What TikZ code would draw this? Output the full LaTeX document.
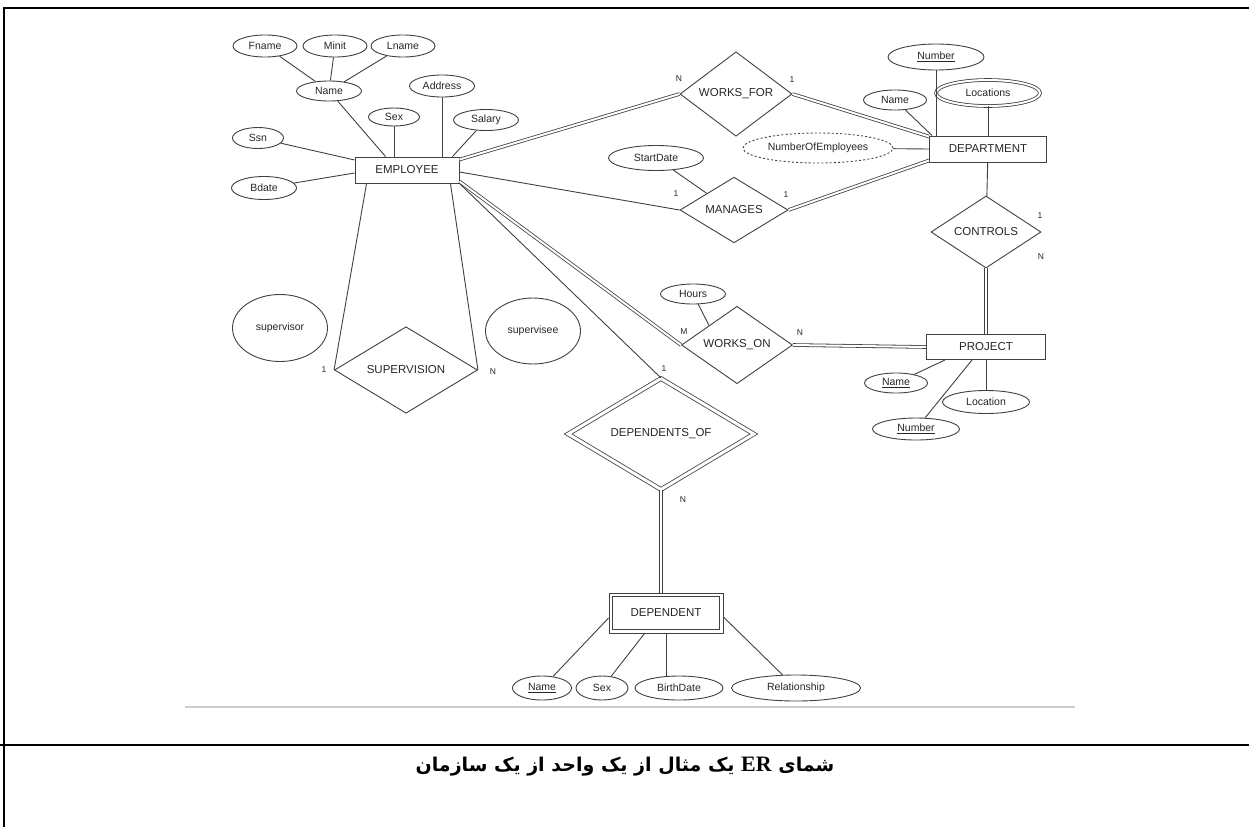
\documentclass[tikz,border=0pt]{standalone}
\usepackage{fontspec}
\setmainfont{Liberation Sans}
\newfontfamily\arabicfont[Script=Arabic]{DejaVu Sans}
\newfontfamily\serifen{Liberation Serif}
\TeXXeTstate=1
\usetikzlibrary{shapes.geometric}

\tikzset{
  base/.style={draw=black!75, line width=0.9pt, text=black!85, inner sep=0pt},
  ent/.style={base, rectangle, font=\fontsize{11.5}{13}\selectfont},
  att/.style={base, ellipse, font=\fontsize{10.5}{12}\selectfont},
  rel/.style={base, diamond, font=\fontsize{11.5}{13}\selectfont},
  card/.style={text=black!85, inner sep=0pt, font=\fontsize{8.5}{10}\selectfont},
  link/.style={draw=black!75, line width=0.9pt},
  dlink/.style={draw=black!75, line width=0.8pt, double=white, double distance=2pt},
}

\begin{document}
\begin{tikzpicture}[x=1pt,y=-1pt]
\useasboundingbox (0,0) rectangle (1249,827);

% frame of the table and the caption row
\draw[line width=2.5pt] (4,827) -- (4,8) -- (1249,8);
\draw[line width=2.5pt] (0,745) -- (1249,745);
\draw[black!20, line width=1.5pt] (185,707) -- (1075,707);

% ---------- EMPLOYEE ----------
\node[ent, minimum width=104, minimum height=26] (emp) at (407,170) {EMPLOYEE};
\node[att, minimum width=64, minimum height=22] (fname) at (265,46) {Fname};
\node[att, minimum width=64, minimum height=22] (minit) at (335,46) {Minit};
\node[att, minimum width=64, minimum height=22] (lname) at (403,46) {Lname};
\node[att, minimum width=65, minimum height=20] (ename) at (329,91) {Name};
\node[att, minimum width=51, minimum height=18] (esex) at (394,117) {Sex};
\node[att, minimum width=65, minimum height=22] (addr) at (442,86) {Address};
\node[att, minimum width=65, minimum height=21] (salary) at (486,120) {Salary};
\node[att, minimum width=51, minimum height=21] (ssn) at (258,138) {Ssn};
\node[att, minimum width=65, minimum height=23] (bdate) at (264,188) {Bdate};

\draw[link] (fname) -- (ename);
\draw[link] (minit) -- (ename);
\draw[link] (lname) -- (ename);
\draw[link] (ename) -- ([xshift=31pt]emp.north west);
\draw[link] (esex) -- (esex |- emp.north);
\draw[link] (addr) -- (addr |- emp.north);
\draw[link] (salary) -- ([xshift=-7pt]emp.north east);
\draw[link] (ssn) -- ([yshift=10pt]emp.west);
\draw[link] (bdate) -- ([yshift=-3pt]emp.west);

% ---------- DEPARTMENT ----------
\node[ent, minimum width=117, minimum height=26] (dept) at (988,149) {DEPARTMENT};
\node[att, minimum width=96, minimum height=26] (dnum) at (936,57) {\underline{Number}};
\node[att, minimum width=63, minimum height=20] (dname) at (895,100) {Name};
\node[att, minimum width=104, minimum height=26, double=white, double distance=2pt, line width=0.8pt] (dloc) at (988,93) {Locations};
\node[att, minimum width=150, minimum height=30, dash pattern=on 2pt off 2.2pt] (noe) at (818,148) {NumberOfEmployees};

\draw[link] (dnum) -- (dnum |- dept.north);
\draw[link] (dname) -- ([xshift=3pt]dept.north west);
\draw[link] (dloc) -- (dloc |- dept.north);
\draw[link] (noe) -- (dept.west);

% ---------- WORKS_FOR ----------
\node[rel, minimum width=112, minimum height=67] (wf) at (736,94) {WORKS\_FOR};
\draw[dlink] ([yshift=-3pt]emp.north east) -- (wf.west);
\draw[dlink] (wf.east) -- ([yshift=-1pt]dept.north west);
\node[card] at (679,79) {N};
\node[card] at (792,80) {1};

% ---------- MANAGES ----------
\node[rel, minimum width=108, minimum height=63] (man) at (734,210) {MANAGES};
\node[att, minimum width=95, minimum height=25] (sdate) at (656,158) {StartDate};
\draw[link] ([yshift=-2pt]emp.east) -- (man.west);
\draw[dlink] (man.east) -- ([yshift=2pt]dept.south west);
\draw[link] (sdate) -- (man.north west);
\node[card] at (676,194) {1};
\node[card] at (786,195) {1};

% ---------- CONTROLS ----------
\node[rel, minimum width=110, minimum height=60] (ctrl) at (986,232) {CONTROLS};
\draw[link] (dept) -- (ctrl);
\node[card] at (1040,216) {1};
\node[card] at (1041,257) {N};

% ---------- PROJECT ----------
\node[ent, minimum width=119, minimum height=25] (proj) at (986,347) {PROJECT};
\node[att, minimum width=63, minimum height=20] (pname) at (896,383) {\underline{Name}};
\node[att, minimum width=87, minimum height=23] (ploc) at (986,402) {Location};
\node[att, minimum width=87, minimum height=22] (pnum) at (916,429) {\underline{Number}};
\draw[dlink] (ctrl) -- (proj);
\draw[link] (pname) -- ([xshift=19pt]proj.south west);
\draw[link] (ploc) -- (ploc |- proj.south);
\draw[link] (pnum) -- ([xshift=46pt]proj.south west);

% ---------- WORKS_ON ----------
\node[rel, minimum width=111, minimum height=65] (won) at (737,345) {WORKS\_ON};
\node[att, minimum width=65, minimum height=20] (hours) at (693,294) {Hours};
\draw[dlink] ([yshift=2pt]emp.south east) -- (won.west);
\draw[dlink] (won.east) -- (proj.west);
\draw[link] (hours) -- (won.north west);
\node[card] at (684,332) {M};
\node[card] at (800,333) {N};

% ---------- SUPERVISION ----------
\node[rel, minimum width=143, minimum height=84] (sup) at (406,370) {SUPERVISION};
\node[att, minimum width=95, minimum height=67] (svor) at (280,328) {supervisor};
\node[att, minimum width=95, minimum height=66] (svee) at (533,331) {supervisee};
\draw[link] ([xshift=12pt]emp.south west) -- (sup.west);
\draw[link] ([xshift=-9pt]emp.south east) -- (sup.east);
\node[card] at (324,370) {1};
\node[card] at (493,372) {N};

% ---------- DEPENDENTS_OF / DEPENDENT ----------
\node[rel, minimum width=186, minimum height=102, double=white, double distance=3pt, line width=0.8pt] (depof) at (661,434) {DEPENDENTS\_OF};
\node[ent, minimum width=114, minimum height=40] (dep) at (666,613) {DEPENDENT};
\draw[draw=black!75, line width=0.8pt] ([xshift=4pt,yshift=-4pt]dep.north west) rectangle ([xshift=-4pt,yshift=4pt]dep.south east);
\draw[link] (emp.south east) -- (depof.north);
\draw[dlink] (depof.south) -- (dep.north -| depof.south);
\node[card] at (664,369) {1};
\node[card] at (683,500) {N};

\node[att, minimum width=59, minimum height=24] (dpname) at (542,688) {\underline{Name}};
\node[att, minimum width=52, minimum height=24] (dpsex) at (602,688) {Sex};
\node[att, minimum width=88, minimum height=24] (dpbd) at (679,688) {BirthDate};
\node[att, minimum width=129, minimum height=26] (dprel) at (796,688) {Relationship};
\draw[link] ([yshift=-5pt]dep.west) -- (dpname);
\draw[link] ([xshift=36pt]dep.south west) -- (dpsex);
\draw[link] (dep.south) -- (dep.south |- dpbd.north);
\draw[link] ([yshift=-4pt]dep.east) -- (dprel);

% ---------- caption ----------
\node[inner sep=0pt] (cap) at (625,767) {\arabicfont\bfseries\fontsize{19}{22}\selectfont
  \beginR شمای {\serifen\bfseries\fontsize{22}{24}\selectfont\beginL ER\endL{}} یک مثال از یک واحد از یک سازمان\endR};
\end{tikzpicture}
\end{document}
